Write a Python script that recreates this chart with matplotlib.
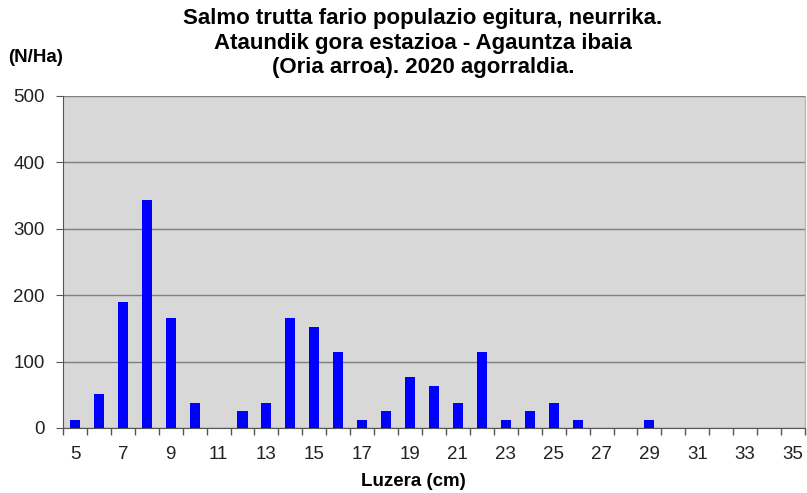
import matplotlib
matplotlib.use("Agg")
import matplotlib.pyplot as plt
import numpy as np

plt.rcParams['font.family'] = ['Liberation Sans', 'DejaVu Sans']

# Length classes (cm) and density (N/Ha)
lengths = list(range(5, 36))
density = [12.7, 50.8, 190.5, 342.9, 165.1, 38.1, 0, 25.4, 38.1, 165.1,
           152.4, 114.3, 12.7, 25.4, 76.2, 63.5, 38.1, 114.3, 12.7, 25.4,
           38.1, 12.7, 0, 0, 12.7, 0, 0, 0, 0, 0, 0]
tick_labels = [str(v) if v % 2 == 1 else "" for v in lengths]

title = ("Salmo trutta fario populazio egitura, neurrika.\n"
         "Ataundik gora estazioa - Agauntza ibaia\n"
         "(Oria arroa). 2020 agorraldia.")

fig = plt.figure(figsize=(8.07, 4.93), dpi=100)
ax = fig.add_axes([63 / 807, 1 - 428 / 493, 742 / 807, 332 / 493])
ax.set_facecolor('#d8d8d8')

x = np.arange(len(lengths))
ax.bar(x, density, width=0.42, color='#0000ff', zorder=3)

ax.set_xlim(-0.5, len(lengths) - 0.5)
ax.set_ylim(0, 500)
ax.set_yticks([0, 100, 200, 300, 400, 500])
ax.yaxis.grid(True, color='#7f7f7f', linewidth=1.0, zorder=1)

ax.set_xticks(x)
ax.set_xticklabels(tick_labels, fontsize=13.5, color='#222222')
ax.set_xticks(np.arange(len(lengths) + 1) - 0.5, minor=True)
ax.tick_params(axis='x', which='major', length=0, pad=13)
ax.tick_params(axis='x', which='minor', length=5, color='#555555', width=1)
ax.tick_params(axis='y', length=5, color='#555555', labelsize=13.5,
               labelcolor='#222222', pad=8)

ax.spines['top'].set_visible(False)
ax.spines['right'].set_color('#b0b0b0')
ax.spines['left'].set_color('#555555')
ax.spines['bottom'].set_color('#555555')

fig.text(413 / 807, 1 - 482 / 493, 'Luzera (cm)', fontsize=13.5,
         fontweight='bold', ha='center', va='center')
fig.text(8 / 807, 1 - 57 / 493, '(N/Ha)', fontsize=13.5, fontweight='bold',
         va='center', ha='left')
fig.text(423 / 807, 1 - 43 / 493, title, fontsize=16, fontweight='bold',
         ha='center', va='center', linespacing=1.22)

fig.savefig('out.png', dpi=100)
